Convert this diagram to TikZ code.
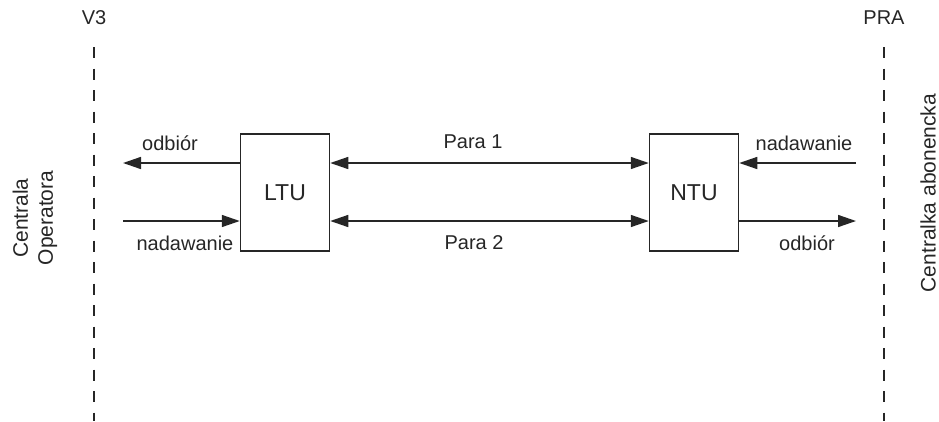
\documentclass[tikz,border=0pt]{standalone}
\usepackage{fontspec}
\setmainfont{Liberation Sans}
\usetikzlibrary{arrows.meta}
\definecolor{ink}{HTML}{262626}
\begin{document}
\begin{tikzpicture}[x=1pt,y=-1pt,
  unitbox/.style={draw=ink,line width=1.5pt,minimum width=89pt,minimum height=117pt,inner sep=0pt,font=\fontsize{23}{26}\selectfont,text=ink},
  lbl/.style={font=\fontsize{20}{23}\selectfont,text=ink,inner sep=0pt},
  sig/.style={draw=ink,line width=1.5pt,-{Triangle[length=18pt,width=12pt]}},
  pair/.style={draw=ink,line width=1.5pt,{Triangle[length=18pt,width=12pt]}-{Triangle[length=18pt,width=12pt]}},
  border/.style={draw=ink,line width=1.1pt,dash pattern=on 11pt off 10.5pt}]
\useasboundingbox (0,0) rectangle (939,421);
% boundaries
\coordinate (v3top) at (94,47);
\coordinate (v3bot) at (94,421);
\coordinate (pratop) at (884,47);
\coordinate (prabot) at (884,421);
\draw[border] (v3top) -- (v3bot);
\draw[border] (pratop) -- (prabot);
\node[lbl] (v3) at (94,18) {V3};
\node[lbl] (pra) at (884,18) {PRA};
% boxes
\node[unitbox] (ltu) at (285,192.5) {LTU};
\node[unitbox] (ntu) at (694,192.5) {NTU};
% signal endpoints
\coordinate (lo) at (123,163);
\coordinate (li) at (123,221);
\coordinate (ri) at (856,163);
\coordinate (ro) at (856,221);
\draw[sig] (ltu.west |- lo) -- (lo);
\draw[sig] (li) -- (ltu.west |- li);
\draw[sig] (ri) -- (ntu.east |- ri);
\draw[sig] (ntu.east |- ro) -- (ro);
\draw[pair] (ltu.east |- lo) -- (ntu.west |- lo);
\draw[pair] (ltu.east |- li) -- (ntu.west |- li);
% labels
\node[lbl] (l1) at (170,143) {odbiór};
\node[lbl] (l2) at (185,243) {nadawanie};
\node[lbl] (l3) at (804,143) {nadawanie};
\node[lbl] (l4) at (807,243) {odbiór};
\node[lbl] (p1) at (473,142) {Para 1};
\node[lbl] (p2) at (474,243) {Para 2};
\node[lbl,rotate=90,align=center,font=\fontsize{21}{25}\selectfont] (co) at (35,218) {Centrala\\Operatora};
\node[lbl,rotate=90,font=\fontsize{21}{25}\selectfont] (ca) at (928,193) {Centralka abonencka};
\end{tikzpicture}
\end{document}
